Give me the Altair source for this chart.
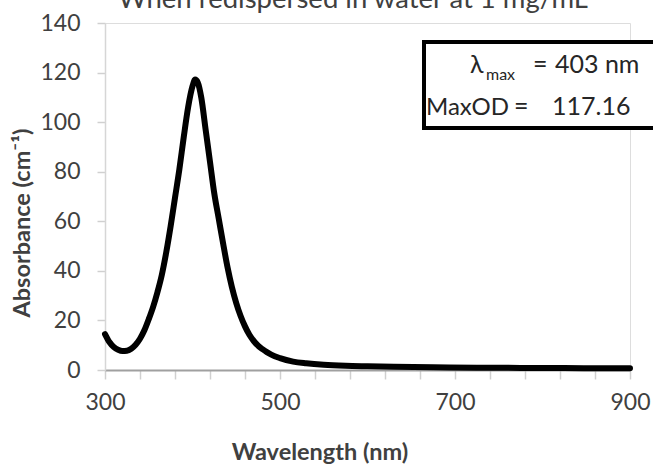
import altair as alt
import pandas as pd

# Absorbance spectrum of the redispersed particles
wavelength_nm = [300, 305, 310, 315, 320, 325, 330, 335, 340, 345, 350, 355,
                 360, 365, 370, 375, 380, 385, 390, 395, 400, 403, 406, 410,
                 415, 420, 425, 430, 435, 440, 445, 450, 455, 460, 465, 470,
                 475, 480, 485, 490, 500, 515, 530, 550, 575, 600, 630, 675,
                 725, 775, 825, 875, 900]
absorbance = [14.5, 11.3, 9.3, 8.2, 7.7, 7.8, 8.6, 10.2, 12.6, 16.0, 20.5, 25.5,
              31.5, 38.5, 47.5, 58.0, 69.5, 81.0, 94.0, 106.0, 114.5, 117.16, 116.0, 110.0,
              97.0, 84.0, 71.0, 61.0, 51.0, 41.5, 33.5, 27.0, 21.8, 17.6, 14.2, 11.7,
              9.8, 8.4, 7.2, 6.2, 4.8, 3.4, 2.7, 2.1, 1.7, 1.5, 1.3, 1.1,
              0.95, 0.85, 0.8, 0.7, 0.7]

peak_nm = 403
peak_od = 117.16

title_text = "When redispersed in water at 1 mg/mL"
x_tick_values = list(range(300, 901, 40))
y_tick_values = list(range(0, 141, 20))

FONT = "Lato"
TEXT_COLOR = "#404040"
BOX_TEXT = "#262626"

spectrum = pd.DataFrame({"wavelength": wavelength_nm, "absorbance": absorbance})
one_row = pd.DataFrame({"k": [0]})

x_scale = alt.Scale(domain=[300, 900], nice=False, zero=False)
y_scale = alt.Scale(domain=[0, 140], nice=False)

curve = alt.Chart(spectrum).mark_line(
    color="black", strokeWidth=6, interpolate="monotone", strokeCap="round"
).encode(
    x=alt.X("wavelength:Q", scale=x_scale, title=None,
            axis=alt.Axis(values=x_tick_values,
                          labelExpr="datum.value % 200 == 100 ? datum.label : ''",
                          labelOverlap=False, labelFlush=False, grid=False, tickSize=9,
                          tickColor="#d0d0d0", tickWidth=1.5,
                          domainColor="#a0a0a0", domainWidth=2,
                          labelFont=FONT, labelFontSize=23, labelColor=TEXT_COLOR,
                          labelPadding=12)),
    y=alt.Y("absorbance:Q", scale=y_scale, title=None,
            axis=alt.Axis(values=y_tick_values, grid=False, tickSize=8,
                          tickColor="#d0d0d0", tickWidth=1.5,
                          domainColor="#d6d6d6", domainWidth=1.5,
                          labelFont=FONT, labelFontSize=23, labelColor=TEXT_COLOR,
                          labelPadding=17)),
)

def label(text, x, y, size, **kw):
    return alt.Chart(one_row).mark_text(
        text=text, font=FONT, fontSize=size, color=kw.pop("color", TEXT_COLOR),
        align=kw.pop("align", "left"), baseline=kw.pop("baseline", "alphabetic"), **kw
    ).encode(x=alt.value(x), y=alt.value(y))

# Annotation box with the peak position and height
box = alt.Chart(one_row).mark_rect(
    fill="white", stroke="black", strokeWidth=4
).encode(x=alt.value(319), x2=alt.value(560), y=alt.value(19), y2=alt.value(105))

annotations = [
    label("λ", 365, 50, 25, color=BOX_TEXT),
    label("max", 381, 57, 16, color=BOX_TEXT),
    label("=", 428, 50, 25, color=BOX_TEXT),
    label(f"{peak_nm} nm", 450, 50, 25, color=BOX_TEXT),
    label("MaxOD", 321, 92, 24, color=BOX_TEXT),
    label("=", 409, 92, 25, color=BOX_TEXT),
    label(f"{peak_od:.2f}", 447, 92, 25, color=BOX_TEXT),
    label(title_text, 248, -15, 27.5, align="center"),
    label("Wavelength (nm)", 215, 437, 23.5, align="center", fontWeight="bold"),
    label("Absorbance (cm⁻¹)", -82, 200, 23.5, align="center", baseline="middle",
          fontWeight="bold", angle=270),
]

chart = alt.layer(curve, box, *annotations).properties(
    width=525, height=347,
    autosize=alt.AutoSizeParams(type="none"),
    padding={"left": 105, "top": 23, "right": 23, "bottom": 96},
).configure_view(stroke=None).configure(background="white")

chart.save("out.html", embed_options={"renderer": "svg", "actions": False})
